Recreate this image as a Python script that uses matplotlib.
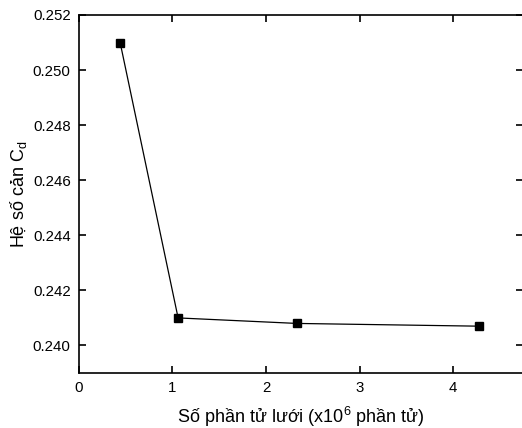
import matplotlib
matplotlib.use("Agg")
import matplotlib.pyplot as plt

# so phan tu luoi (x10^6) va he so can
mesh_size = [0.44, 1.06, 2.33, 4.28]
cd_values = [0.2510, 0.2410, 0.2408, 0.2407]

x_ticks = [0, 1, 2, 3, 4]
y_ticks = [0.240, 0.242, 0.244, 0.246, 0.248, 0.250, 0.252]

plt.rcParams['font.family'] = ['Liberation Sans', 'DejaVu Sans']

fig = plt.figure(figsize=(5.22, 4.28), dpi=100)
ax = fig.add_axes([0.1513, 0.1285, 0.851, 0.8365])

ax.plot(mesh_size, cd_values, color="black", linewidth=0.9,
        marker="s", markersize=5.8, markerfacecolor="black", markeredgecolor="black")

ax.set_xlim(0, 4.75)
ax.set_ylim(0.239, 0.252)
ax.set_xticks(x_ticks)
ax.set_yticks(y_ticks)
ax.set_yticklabels([f"{v:.3f}" for v in y_ticks])

ax.tick_params(direction="in", length=5, width=1.2, top=True, right=True,
               labelsize=10.8, pad=6)
for sp in ax.spines.values():
    sp.set_linewidth(1.2)

ax.set_xlabel(r"Số phần tử lưới (x10$\mathregular{^6}$ phần tử)", fontsize=13, labelpad=7)
ax.set_ylabel(r"Hệ số cản C$\mathregular{_d}$", fontsize=13)
ax.yaxis.set_label_coords(-0.112, 0.5)

fig.savefig("out.png", dpi=100)
